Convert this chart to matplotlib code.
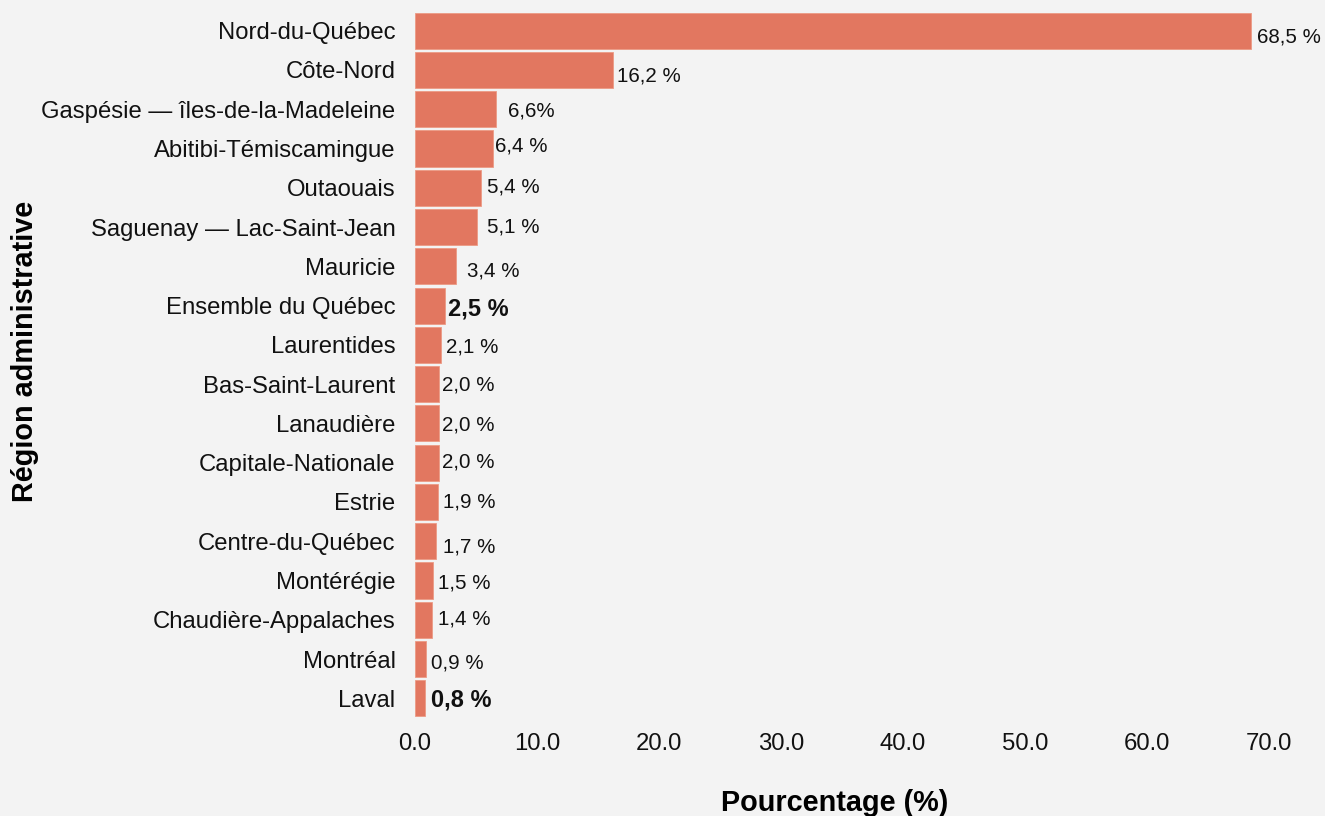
import matplotlib
matplotlib.use("Agg")
import matplotlib.pyplot as plt

# -----------------------------
# Data
# -----------------------------
regions = [
    "Nord-du-Québec", "Côte-Nord", "Gaspésie — îles-de-la-Madeleine",
    "Abitibi-Témiscamingue", "Outaouais", "Saguenay — Lac-Saint-Jean",
    "Mauricie", "Ensemble du Québec", "Laurentides", "Bas-Saint-Laurent",
    "Lanaudière", "Capitale-Nationale", "Estrie", "Centre-du-Québec",
    "Montérégie", "Chaudière-Appalaches", "Montréal", "Laval",
]
percent = [68.5, 16.2, 6.6, 6.4, 5.4, 5.1, 3.4, 2.5, 2.1, 2.0,
           2.0, 2.0, 1.9, 1.7, 1.5, 1.4, 0.9, 0.8]
value_labels = ["68,5 %", "16,2 %", "6,6%", "6,4 %", "5,4 %", "5,1 %",
                "3,4 %", "2,5 %", "2,1 %", "2,0 %", "2,0 %", "2,0 %",
                "1,9 %", "1,7 %", "1,5 %", "1,4 %", "0,9 %", "0,8 %"]
bold_rows = ["Ensemble du Québec", "Laval"]
xticks = [0, 10, 20, 30, 40, 50, 60, 70]

# label nudges in pixels (right, down), the original labels are a bit scattered
label_dx = [6, 4, 12, 2, 6, 10, 11, 3, 5, 3, 3, 3, 5, 7, 5, 6, 5, 6]
label_dy = [6, 6, 2, -2, -1, 0, 5, 3, 2, 1, 2, -1, 0, 6, 2, -1, 4, 2]

# -----------------------------
# Plot
# -----------------------------
plt.rcParams["font.family"] = ["Liberation Sans", "DejaVu Sans"]
bg = "#f3f3f3"
bar_color = "#e27760"

fig = plt.figure(figsize=(13.25, 8.16), dpi=100, facecolor=bg)
ax = fig.add_axes([0.3132, 0.1201, 0.6445, 0.8664], facecolor=bg)

y = list(range(len(regions)))
ax.barh(y, percent, height=0.92, color=bar_color, edgecolor="#ec9a85", linewidth=0.6)

for i, (v, lab) in enumerate(zip(percent, value_labels)):
    is_bold = regions[i] in bold_rows
    ax.annotate(lab, xy=(v, i), xytext=(label_dx[i], -label_dy[i]),
                textcoords="offset pixels", ha="left", va="center",
                fontsize=17 if is_bold else 14.8,
                fontweight="bold" if is_bold else "normal",
                color="#111111", annotation_clip=False)

ax.set_xlim(0, 70)
ax.set_ylim(len(regions) - 0.5, -0.5)
ax.set_yticks(y)
ax.set_yticklabels(regions, fontsize=17.2, color="#111111")
ax.set_xticks(xticks)
ax.set_xticklabels([f"{t:.1f}" for t in xticks], fontsize=17.2, color="#111111")
ax.tick_params(axis="y", length=0, pad=14)
ax.tick_params(axis="x", length=0, pad=11)
for s in ax.spines.values():
    s.set_visible(False)

ax.set_xlabel("Pourcentage (%)", fontsize=20.8, fontweight="bold")
ax.set_ylabel("Région administrative", fontsize=20.8, fontweight="bold")
ax.xaxis.set_label_coords(0.492, -0.101)
ax.yaxis.set_label_coords(-0.44, 0.518)

fig.savefig("out.png", dpi=100, facecolor=bg)
